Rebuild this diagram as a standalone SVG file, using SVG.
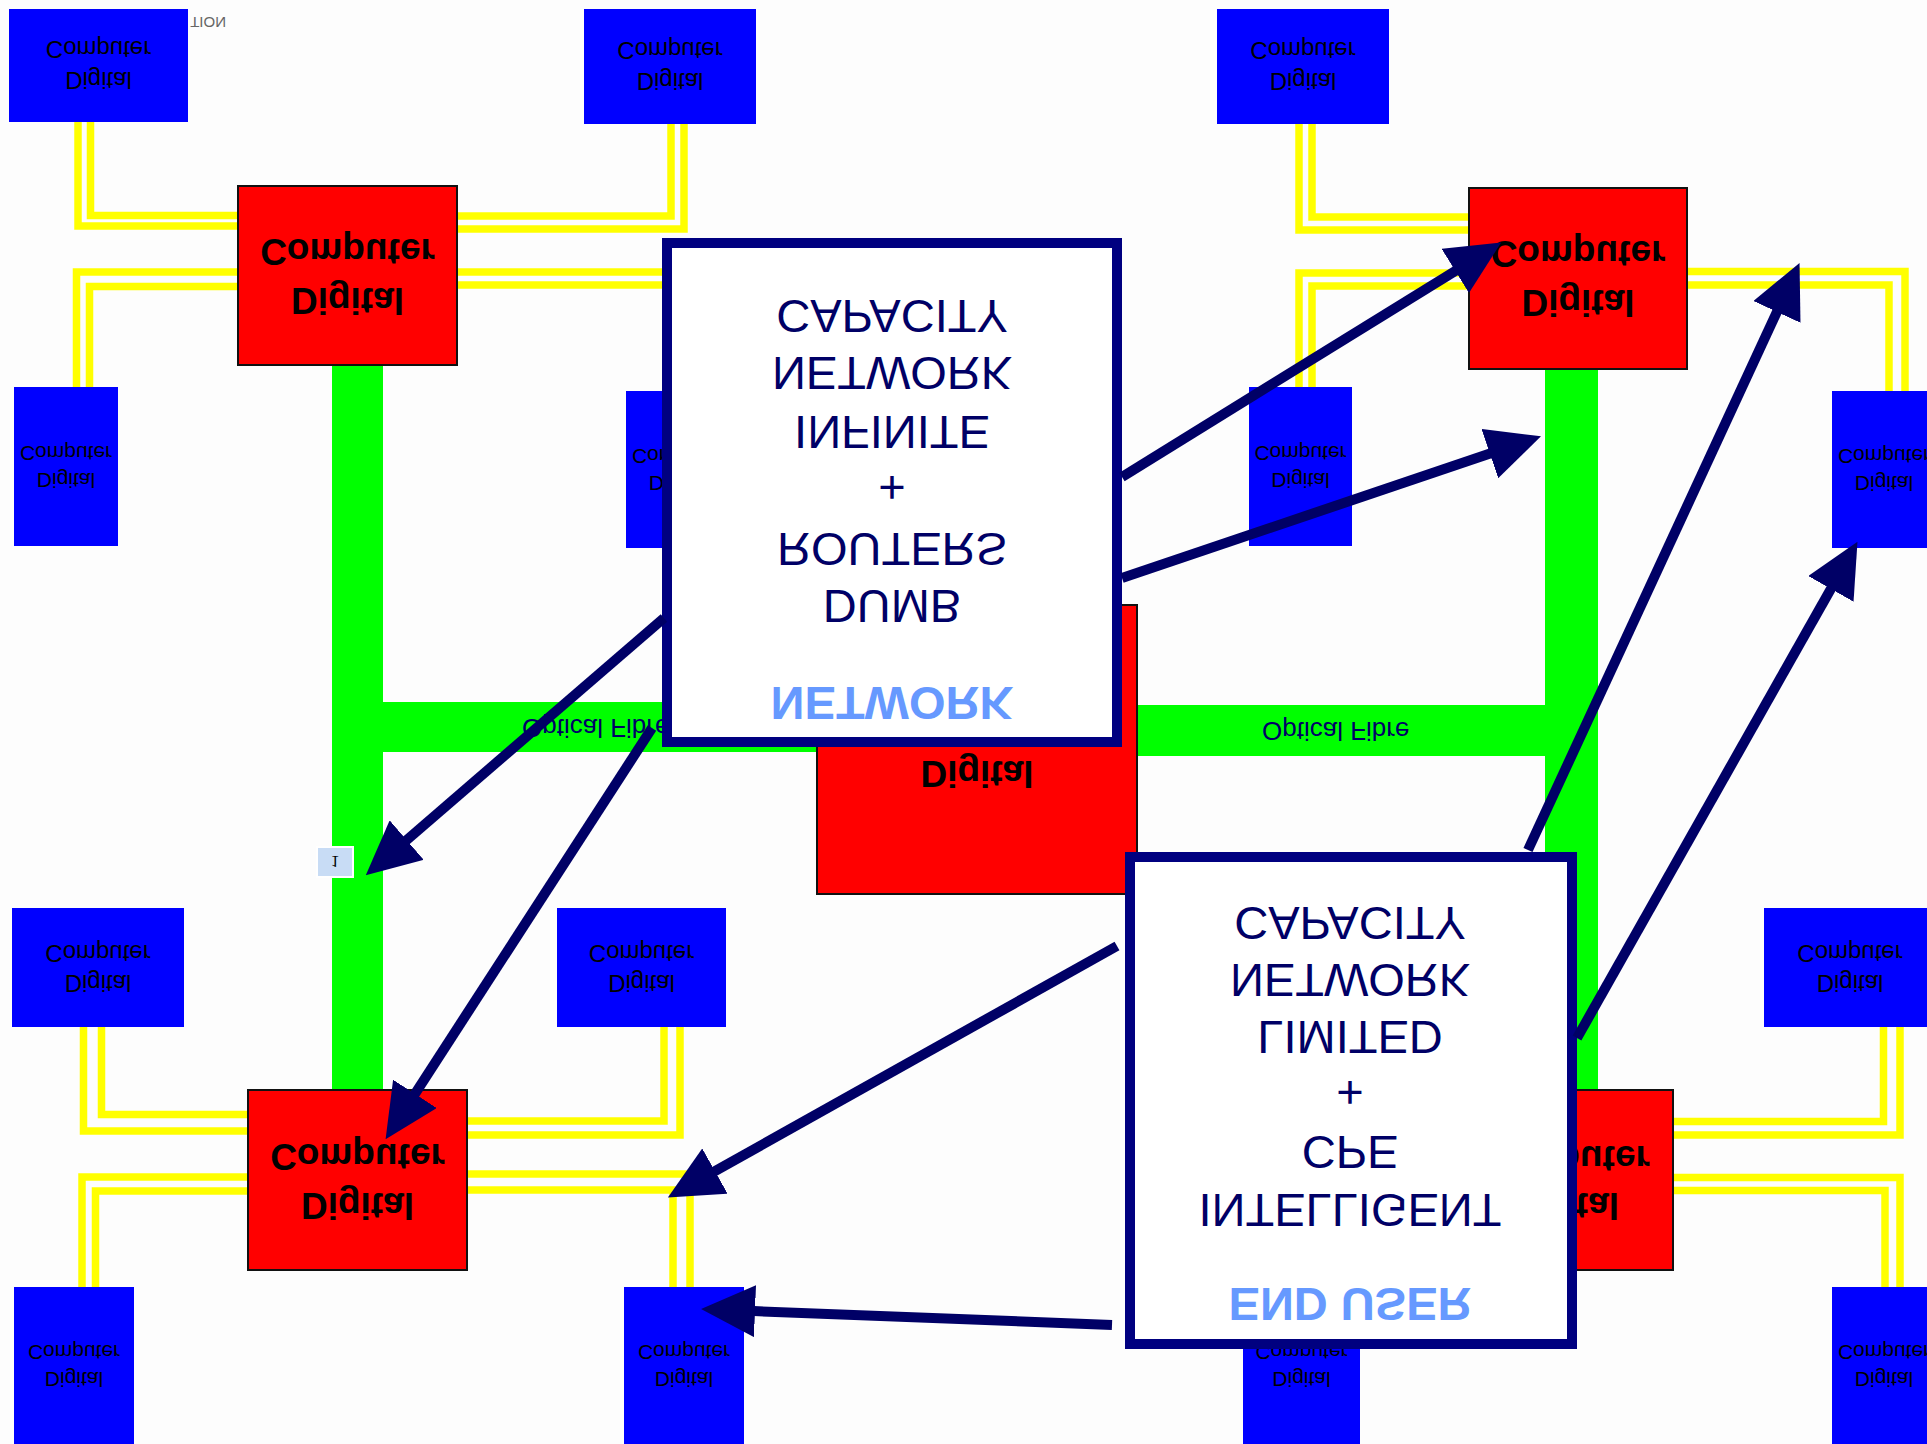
<svg xmlns="http://www.w3.org/2000/svg" width="1927" height="1444" viewBox="0 0 1927 1444">
<defs>
<style>
text{font-family:"Liberation Sans",Arial,sans-serif;text-anchor:middle}
.yl{fill:none;stroke:#ffff00;stroke-width:7.5}
.gr{fill:#00ff00}
.bl{fill:#0000ff}
.rd{fill:#ff0000;stroke:#111;stroke-width:2}
.tw{font-size:24px;fill:#000}
.tn{font-size:21px;fill:#000}
.tr{font-size:37px;font-weight:bold;fill:#000}
.bx{fill:#ffffff;stroke:#000080;stroke-width:10}
.bt{font-size:47px;fill:#000066}
.hd{font-size:47px;font-weight:bold;fill:#6699ff}
.of{font-size:26px;fill:#000066;text-anchor:start}
.ar{fill:none;stroke:#000066;stroke-width:10;marker-end:url(#ah)}
</style>
<marker id="ah" markerUnits="userSpaceOnUse" viewBox="0 0 54 52" markerWidth="54" markerHeight="52" refX="1" refY="26" orient="auto"><path d="M0,0 L54,26 L0,52 Z" fill="#000066"/></marker>
</defs>
<rect x="0" y="0" width="1927" height="1444" fill="#fdfdfd"/>
<text x="226" y="0" transform="matrix(1 0 0 -1 0 17)" style="font-size:15px;fill:#666;text-anchor:end">TION</text>

<g id="connectors">
<path class="yl" d="M78,122 V226 H238"/><path class="yl" d="M90.5,122 V215.5 H238"/>
<path class="yl" d="M238,272 H76.5 V387"/><path class="yl" d="M238,286.5 H89.5 V387"/>
<path class="yl" d="M457,216 H671 V124"/><path class="yl" d="M457,229 H684 V124"/>
<path class="yl" d="M457,272 H670"/><path class="yl" d="M457,285 H670"/>
<path class="yl" d="M1299,124 V230 H1469"/><path class="yl" d="M1312,124 V217 H1469"/>
<path class="yl" d="M1469,273 H1299 V387"/><path class="yl" d="M1469,286 H1312 V387"/>
<path class="yl" d="M1687,271.5 H1905 V391"/><path class="yl" d="M1687,285 H1889 V391"/>
<path class="yl" d="M83.5,1027 V1131 H248"/><path class="yl" d="M101.5,1027 V1114.5 H248"/>
<path class="yl" d="M248,1177 H82 V1287"/><path class="yl" d="M248,1191 H95.5 V1287"/>
<path class="yl" d="M467,1121 H664 V1027"/><path class="yl" d="M467,1135 H680 V1027"/>
<path class="yl" d="M467,1174 H690 V1287"/><path class="yl" d="M467,1190 H673 V1287"/>
<path class="yl" d="M1673,1121.5 H1883.5 V1026"/><path class="yl" d="M1673,1135 H1900 V1026"/>
<path class="yl" d="M1673,1177.5 H1900 V1287"/><path class="yl" d="M1673,1190.5 H1885 V1287"/>
<rect class="gr" x="332" y="365" width="51" height="725"/>
<rect class="gr" x="383" y="702" width="434" height="50"/>
<rect class="gr" x="1137" y="705" width="408" height="51"/>
<rect class="gr" x="1545" y="369" width="53" height="721"/>
<text class="of" transform="matrix(1 0 0 -1 522 719)">Optical Fibre</text>
<text class="of" transform="matrix(1 0 0 -1 1262 722)">Optical Fibre</text>
</g>

<g id="pc1"><rect class="bl" x="9" y="9" width="179" height="113"/><text class="tw" transform="matrix(1 0 0 -1 98.5 41)">Computer</text><text class="tw" transform="matrix(1 0 0 -1 98.5 72)">Digital</text></g>
<g id="pc2"><rect class="bl" x="584" y="9" width="172" height="115"/><text class="tw" transform="matrix(1 0 0 -1 670 42)">Computer</text><text class="tw" transform="matrix(1 0 0 -1 670 73)">Digital</text></g>
<g id="pc3"><rect class="bl" x="1217" y="9" width="172" height="115"/><text class="tw" transform="matrix(1 0 0 -1 1303 42)">Computer</text><text class="tw" transform="matrix(1 0 0 -1 1303 73)">Digital</text></g>
<g id="pc4"><rect class="bl" x="14" y="387" width="104" height="159"/><text class="tn" transform="matrix(1 0 0 -1 66 445.5)">Computer</text><text class="tn" transform="matrix(1 0 0 -1 66 472.5)">Digital</text></g>
<g id="pc5"><rect class="bl" x="626" y="391" width="104" height="157"/><text class="tn" transform="matrix(1 0 0 -1 678 448.5)">Computer</text><text class="tn" transform="matrix(1 0 0 -1 678 475.5)">Digital</text></g>
<g id="pc6"><rect class="bl" x="1249" y="387" width="103" height="159"/><text class="tn" transform="matrix(1 0 0 -1 1300.5 445.5)">Computer</text><text class="tn" transform="matrix(1 0 0 -1 1300.5 472.5)">Digital</text></g>
<g id="pc7"><rect class="bl" x="1832" y="391" width="104" height="157"/><text class="tn" transform="matrix(1 0 0 -1 1884 448.5)">Computer</text><text class="tn" transform="matrix(1 0 0 -1 1884 475.5)">Digital</text></g>
<g id="pc8"><rect class="bl" x="12" y="908" width="172" height="119"/><text class="tw" transform="matrix(1 0 0 -1 98 945)">Computer</text><text class="tw" transform="matrix(1 0 0 -1 98 975)">Digital</text></g>
<g id="pc9"><rect class="bl" x="557" y="908" width="169" height="119"/><text class="tw" transform="matrix(1 0 0 -1 641.5 945)">Computer</text><text class="tw" transform="matrix(1 0 0 -1 641.5 975)">Digital</text></g>
<g id="pc10"><rect class="bl" x="1764" y="908" width="172" height="119"/><text class="tw" transform="matrix(1 0 0 -1 1850 945)">Computer</text><text class="tw" transform="matrix(1 0 0 -1 1850 975)">Digital</text></g>
<g id="pc11"><rect class="bl" x="14" y="1287" width="120" height="157"/><text class="tn" transform="matrix(1 0 0 -1 74 1344.5)">Computer</text><text class="tn" transform="matrix(1 0 0 -1 74 1371.5)">Digital</text></g>
<g id="pc12"><rect class="bl" x="624" y="1287" width="120" height="157"/><text class="tn" transform="matrix(1 0 0 -1 684 1344.5)">Computer</text><text class="tn" transform="matrix(1 0 0 -1 684 1371.5)">Digital</text></g>
<g id="pc13"><rect class="bl" x="1243" y="1287" width="117" height="157"/><text class="tn" transform="matrix(1 0 0 -1 1301.5 1344.5)">Computer</text><text class="tn" transform="matrix(1 0 0 -1 1301.5 1371.5)">Digital</text></g>
<g id="pc14"><rect class="bl" x="1832" y="1287" width="104" height="157"/><text class="tn" transform="matrix(1 0 0 -1 1884 1344.5)">Computer</text><text class="tn" transform="matrix(1 0 0 -1 1884 1371.5)">Digital</text></g>

<g id="hubA"><rect class="rd" x="238" y="186" width="219" height="179"/><text class="tr" transform="matrix(1 0 0 -1 347.5 239)">Computer</text><text class="tr" transform="matrix(1 0 0 -1 347.5 288)">Digital</text></g>
<g id="hubB"><rect class="rd" x="1469" y="188" width="218" height="181"/><text class="tr" transform="matrix(1 0 0 -1 1578 241)">Computer</text><text class="tr" transform="matrix(1 0 0 -1 1578 290)">Digital</text></g>
<g id="hubC"><rect class="rd" x="817" y="605" width="320" height="289"/><text class="tr" transform="matrix(1 0 0 -1 977 761)">Digital</text></g>
<g id="hubD"><rect class="rd" x="248" y="1090" width="219" height="180"/><text class="tr" transform="matrix(1 0 0 -1 357.5 1144)">Computer</text><text class="tr" transform="matrix(1 0 0 -1 357.5 1193)">Digital</text></g>
<g id="hubE"><rect class="rd" x="1452" y="1090" width="221" height="180"/><text class="tr" transform="matrix(1 0 0 -1 1562.5 1146)">Computer</text><text class="tr" transform="matrix(1 0 0 -1 1562.5 1193)">Digital</text></g>

<g id="network">
<rect class="bx" x="667" y="243" width="450" height="499"/>
<text class="bt" transform="matrix(1 0 0 -1 892 300)">CAPACITY</text>
<text class="bt" transform="matrix(1 0 0 -1 892 357)">NETWORK</text>
<text class="bt" transform="matrix(1 0 0 -1 892 416)">INFINITE</text>
<text class="bt" transform="matrix(1 0 0 -1 892 472)">+</text>
<text class="bt" transform="matrix(1 0 0 -1 892 533)">ROUTERS</text>
<text class="bt" transform="matrix(1 0 0 -1 892 590)">DUMB</text>
<text class="hd" transform="matrix(1 0 0 -1 892 687)">NETWORK</text>
</g>
<g id="enduser">
<rect class="bx" x="1130" y="857" width="442" height="487"/>
<text class="bt" transform="matrix(1 0 0 -1 1350 907)">CAPACITY</text>
<text class="bt" transform="matrix(1 0 0 -1 1350 964)">NETWORK</text>
<text class="bt" transform="matrix(1 0 0 -1 1350 1021)">LIMITED</text>
<text class="bt" transform="matrix(1 0 0 -1 1350 1077)">+</text>
<text class="bt" transform="matrix(1 0 0 -1 1350 1136)">CPE</text>
<text class="bt" transform="matrix(1 0 0 -1 1350 1194)">INTELLIGENT</text>
<text class="hd" transform="matrix(1 0 0 -1 1350 1288)">END USER</text>
</g>
<g id="marker1"><rect x="317" y="847" width="36" height="30" fill="#c8dcf5" stroke="#ffffff" stroke-width="2"/><text transform="matrix(1 0 0 -1 335 856)" style="font-family:'Liberation Serif',serif;font-size:17px;fill:#000">1</text></g>

<g id="arrows">
<path class="ar" d="M1122,477 L1456.1,270.4"/>
<path class="ar" d="M1122,578 L1490.8,453.3"/>
<path class="ar" d="M664,618 L405.9,840.7"/>
<path class="ar" d="M652,728 L414.4,1094.7"/>
<path class="ar" d="M1528,850 L1777.3,311"/>
<path class="ar" d="M1577,1038 L1831.4,588"/>
<path class="ar" d="M1117,946 L714.1,1171.6"/>
<path class="ar" d="M1112,1325 L754,1311.1"/>
</g>
</svg>
